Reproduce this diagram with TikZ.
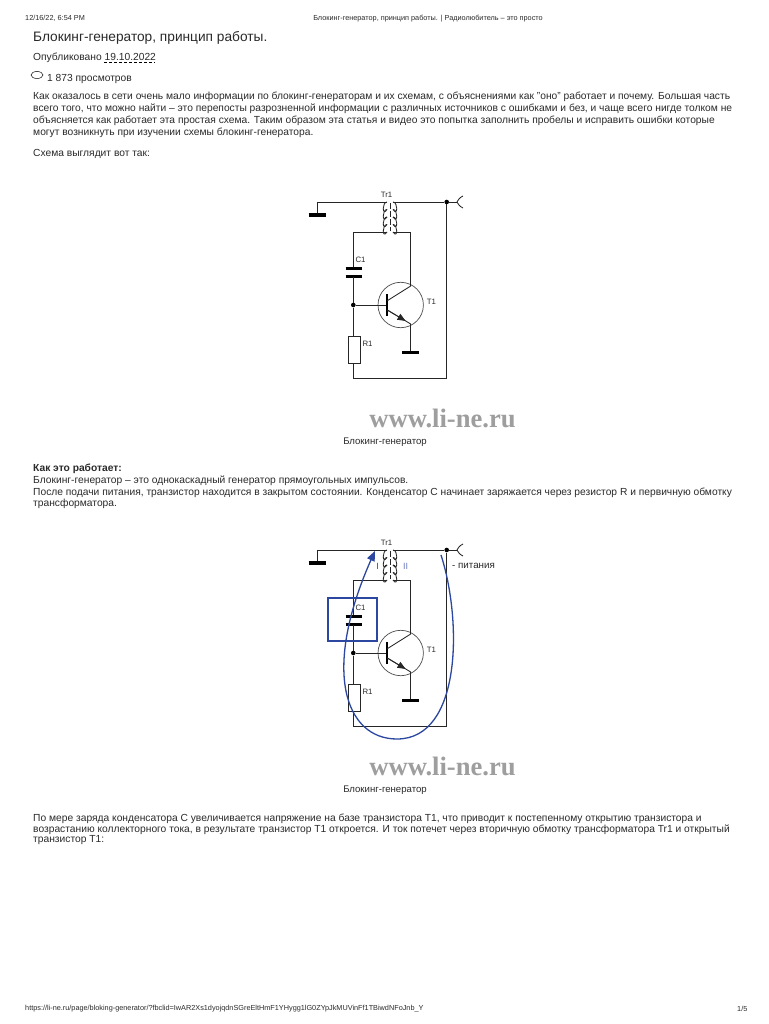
\documentclass[tikz,border=0pt]{standalone}
\usepackage{fontspec}
\setmainfont{Liberation Sans}
\newfontfamily\wmfont{Liberation Serif}
\usetikzlibrary{calc, arrows, shapes.geometric}
\definecolor{txtgray}{HTML}{2A2A2A}
\definecolor{blueline}{HTML}{2C479F}
\newcommand\fsize[1]{\fontsize{#1}{#1}\selectfont}

\tikzset{
  txt/.style={anchor=west, inner sep=0pt, yshift=-1.5pt, text=txtgray, font=\fsize{10.25}},
  small/.style={anchor=center, inner sep=0pt, text=txtgray, font=\fsize{7.8}},
  wire/.style={line width=0.85pt, color=black!85},
  plate/.style={line width=3.2pt, color=black},
  dot/.style={circle, fill=black, inner sep=0pt, minimum size=4.6pt},
  pics/blocking/.style={code={
    \coordinate (-gndl) at (317,215);
    \coordinate (-gndla) at (308.5,215);
    \coordinate (-gndlb) at (326,215);
    \coordinate (-pt) at (387,202);
    \coordinate (-pb) at (387,232);
    \coordinate (-st) at (393,202);
    \coordinate (-sb) at (393,232);
    \node[dot] (-top) at (446.7,202) {};
    \coordinate (-fork) at (457,202);
    \coordinate (-railb) at (353.3,378.3);
    \coordinate (-capa) at (353.3,268.7);
    \coordinate (-capb) at (353.3,276.7);
    \node[dot] (-base) at (353.3,305) {};
    \node[draw, wire, fill=white, minimum width=12.7pt, minimum height=27pt, inner sep=0pt] (-res) at (354.3,349.5) {};
    \node[circle, draw=black!70, line width=0.7pt, minimum size=45.4pt, inner sep=0pt] (-body) at (400.7,305) {};
    \coordinate (-bar) at (387.3,305);
    \coordinate (-cb) at (387.3,300.7);
    \coordinate (-ce) at (410.7,286);
    \coordinate (-eb) at (387.3,310);
    \coordinate (-ee) at (410.7,324);
    \coordinate (-gnde) at (410.7,352.7);

    \draw[wire] (-gndl) |- (-pt);
    \draw[plate] (-gndla) -- (-gndlb);
    \draw[wire] (-st) -- (-top) -- (-fork);
    \draw[wire] (-fork) .. controls (459.5,198) .. (463,196);
    \draw[wire] (-fork) .. controls (459.5,206) .. (463,208);
    \foreach \y in {0,1,2,3}{
      \draw[wire] ($(-pt)+(0,\y*7.5)$) .. controls +(-5,0) and +(-5,7.5) .. +(0,7.5);
      \draw[wire] ($(-st)+(0,\y*7.5)$) .. controls +(5,0) and +(5,7.5) .. +(0,7.5);
    }
    \draw[wire, dash pattern=on 6pt off 2pt] (390,203) -- (390,231);
    \draw[wire] (-pb) -| (-capa);
    \draw[plate] (345.7,268.7) -- (361.7,268.7);
    \draw[plate] (345.7,276.7) -- (361.7,276.7);
    \draw[wire] (-capb) -- (-base);
    \draw[wire] (-base) -- (-res.north -| -base);
    \draw[wire] (-res.south -| -base) -- (-railb);
    \draw[wire] (-railb) -| (-top);
    \draw[wire] (-base) -- (-bar);
    \draw[line width=1.8pt] (387.3,294) -- (387.3,316);
    \draw[wire] (-cb) -- (-ce);
    \draw[wire] (-sb) -| (-ce);
    \draw[wire] (-eb) -- (-ee);
    \draw[wire, ->] (-eb) -- ($(-eb)!.78!(-ee)$);
    \draw[wire] (-ee) -- (-gnde);
    \draw[plate] (402.3,352.7) -- (419.3,352.7);

    \node[small] (-tr) at (386.5,194.5) {Tr1};
    \node[small] (-cl) at (360.5,260) {C1};
    \node[small] (-tl) at (431.5,302) {T1};
    \node[small] (-rl) at (367.5,344) {R1};
    \node[anchor=center, inner sep=0pt, text=black!38, font=\wmfont\bfseries\fsize{26.6}] (-mark) at (442.5,418) {www.li-ne.ru};
    \node[anchor=center, inner sep=0pt, text=txtgray, font=\fsize{9.6}] (-cap) at (385,442.5) {Блокинг-генератор};
  }},
}

\begin{document}
\begin{tikzpicture}[x=1pt, y=-1pt, >=triangle 45]
\useasboundingbox (0,0) rectangle (768,1024);
\fill[white] (0,0) rectangle (768,1024);

\node[txt, font=\fsize{7.3}] (stamp) at (25,17) {12/16/22, 6:54 PM};
\node[txt, anchor=center, font=\fsize{7.3}] (head) at (428,17) {Блокинг-генератор, принцип работы. | Радиолюбитель – это просто};
\node[txt, font=\fsize{13.7}] (title) at (33,36) {Блокинг-генератор, принцип работы.};
\node[txt] (posted) at (33,56.5) {Опубликовано 19.10.2022};
\draw[densely dashed, line width=0.5pt] (104,62.5) -- (155,62.5);
\node[draw, ellipse, minimum width=12pt, minimum height=7pt, inner sep=0pt, line width=0.5pt] (eye) at (37,75) {};
\node[txt] (views) at (47,77) {1 873 просмотров};

\node[txt] (aa) at (33,95) {Как оказалось в сети очень мало информации по блокинг-генераторам и их схемам, с объяснениями как "оно" работает и почему. Большая часть};
\node[txt] (ab) at (33,107.5) {всего того, что можно найти – это перепосты разрозненной информации с различных источников с ошибками и без, и чаще всего нигде толком не};
\node[txt] (ac) at (33,119) {объясняется как работает эта простая схема. Таким образом эта статья и видео это попытка заполнить пробелы и исправить ошибки которые};
\node[txt] (ad) at (33,131) {могут возникнуть при изучении схемы блокинг-генератора.};
\node[txt] (ae) at (33,152) {Схема выглядит вот так:};

\pic (one) at (0,0) {blocking};

\node[txt, font=\bfseries\fsize{10.25}] (ba) at (33,467) {Как это работает:};
\node[txt] (bb) at (33,479) {Блокинг-генератор – это однокаскадный генератор прямоугольных импульсов.};
\node[txt] (bc) at (33,491) {После подачи питания, транзистор находится в закрытом состоянии. Конденсатор С начинает заряжается через резистор R и первичную обмотку};
\node[txt] (bd) at (33,502) {трансформатора.};

\pic (two) at (0,348) {blocking};

\node[small, text=blueline, font=\fsize{9}] (lone) at (377.5,566) {I};
\node[small, text=blueline!70, font=\fsize{9}] (ltwo) at (405.5,566) {II};
\node[small, font=\fsize{9.8}] (supply) at (473.5,566) {- питания};
\node[draw=blueline, line width=1.3pt, minimum width=49pt, minimum height=43pt, inner sep=0pt] (hilite) at (352.5,619.5) {};
\coordinate (flowa) at (441,555);
\coordinate (flowb) at (397,739);
\coordinate (flowc) at (375,551);
\draw[blueline, line width=1.3pt, ->] (flowa) .. controls (462,620) and (462,739) .. (flowb) .. controls (345,739) and (320,670) .. (flowc);

\node[txt] (ca) at (33,817) {По мере заряда конденсатора С увеличивается напряжение на базе транзистора T1, что приводит к постепенному открытию транзистора и};
\node[txt] (cb) at (33,828) {возрастанию коллекторного тока, в результате транзистор Т1 откроется. И ток потечет через вторичную обмотку трансформатора Tr1 и открытый};
\node[txt] (cc) at (33,839) {транзистор Т1:};

\node[txt, font=\fsize{7.3}] (url) at (25,1007) {https://li-ne.ru/page/bloking-generator/?fbclid=IwAR2Xs1dyojqdnSGreEltHmF1YHygg1lG0ZYpJkMUVinFf1TBiwdNFoJnb\_Y};
\node[txt, font=\fsize{7.3}] (page) at (737,1007) {1/5};
\end{tikzpicture}
\end{document}
